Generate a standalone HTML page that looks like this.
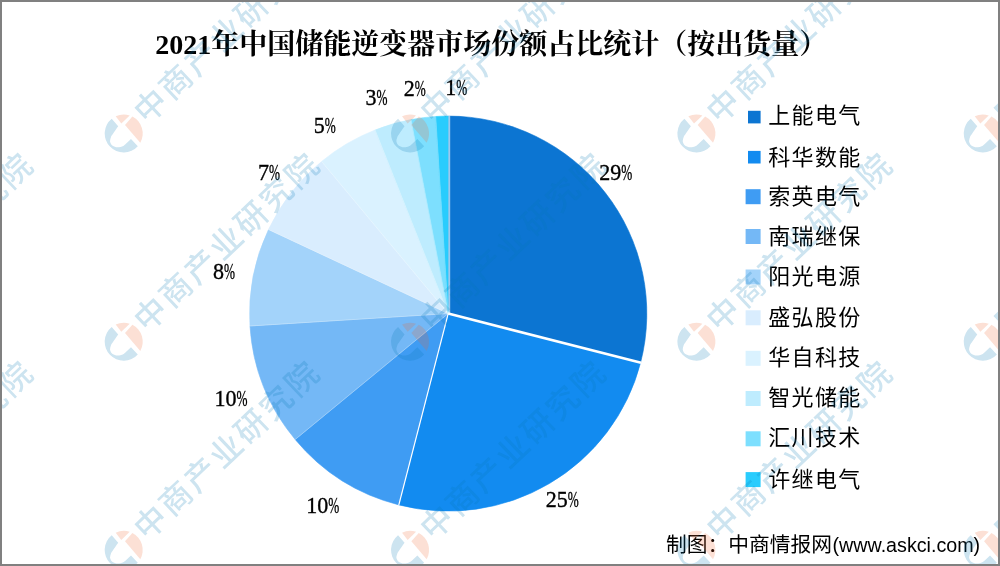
<!DOCTYPE html>
<html lang="zh-CN"><head><meta charset="utf-8"><title>2021年中国储能逆变器市场份额占比统计</title>
<style>
html,body{margin:0;padding:0;background:#fff;}
#chart{position:relative;width:1000px;height:566px;overflow:hidden;background:#fff;}
svg{position:absolute;left:0;top:0;display:block;}
.title{font-family:"Liberation Serif","Noto Serif CJK SC",serif;font-weight:bold;font-size:28px;fill:#000;}
.lab{font-family:"Liberation Serif","Noto Serif CJK SC",serif;font-size:22.8px;fill:#000;stroke:#000;stroke-width:0.35px;}
.leg{font-family:"Liberation Sans","Noto Sans CJK SC",sans-serif;font-size:22px;font-weight:400;fill:#000;letter-spacing:1.3px;}
.foot{font-family:"Liberation Sans","Noto Sans CJK SC",sans-serif;font-size:20.75px;font-weight:400;fill:#000;}
.foot .fl{font-size:19.7px;font-weight:400;}
.wm{font-family:"Liberation Sans","Noto Sans CJK SC",sans-serif;font-size:32px;fill:#0578B4;letter-spacing:2.7px;font-weight:500;}
</style></head><body>
<div id="chart">
<svg width="1000" height="566" viewBox="0 0 1000 566">
<rect x="0" y="0" width="1000" height="566" fill="#ffffff"/>

<g id="pie" transform="translate(0,313.60) scale(1,0.99447) translate(0,-313.60)">
<path d="M448.20,313.60 L448.20,115.00 A198.6,198.6 0 0 1 640.56,362.99 Z" fill="#0C75D2" stroke="#0C75D2" stroke-width="0.6"/>
<path d="M448.20,313.60 L640.56,362.99 A198.6,198.6 0 0 1 398.81,505.96 Z" fill="#128BF0" stroke="#128BF0" stroke-width="0.6"/>
<path d="M448.20,313.60 L398.81,505.96 A198.6,198.6 0 0 1 295.18,440.19 Z" fill="#3F9CF3" stroke="#3F9CF3" stroke-width="0.6"/>
<path d="M448.20,313.60 L295.18,440.19 A198.6,198.6 0 0 1 249.99,326.07 Z" fill="#74B8F6" stroke="#74B8F6" stroke-width="0.6"/>
<path d="M448.20,313.60 L249.99,326.07 A198.6,198.6 0 0 1 268.50,229.04 Z" fill="#A3D3FA" stroke="#A3D3FA" stroke-width="0.6"/>
<path d="M448.20,313.60 L268.50,229.04 A198.6,198.6 0 0 1 321.61,160.58 Z" fill="#D9EDFE" stroke="#D9EDFE" stroke-width="0.6"/>
<path d="M448.20,313.60 L321.61,160.58 A198.6,198.6 0 0 1 375.09,128.95 Z" fill="#DAF2FF" stroke="#DAF2FF" stroke-width="0.6"/>
<path d="M448.20,313.60 L375.09,128.95 A198.6,198.6 0 0 1 410.99,118.52 Z" fill="#BEECFE" stroke="#BEECFE" stroke-width="0.6"/>
<path d="M448.20,313.60 L410.99,118.52 A198.6,198.6 0 0 1 435.73,115.39 Z" fill="#7DDFFE" stroke="#7DDFFE" stroke-width="0.6"/>
<path d="M448.20,313.60 L435.73,115.39 A198.6,198.6 0 0 1 448.20,115.00 Z" fill="#29CCFD" stroke="#29CCFD" stroke-width="0.6"/>
<line x1="449.30" y1="313.60" x2="449.30" y2="114.50" stroke="#fff" stroke-width="1.8" stroke-opacity="0.6"/>
<line x1="448.20" y1="313.60" x2="641.04" y2="363.11" stroke="#fff" stroke-width="2.6" stroke-opacity="1"/>
<line x1="448.20" y1="313.60" x2="398.69" y2="506.44" stroke="#fff" stroke-width="1.2" stroke-opacity="1"/>
<line x1="448.20" y1="313.60" x2="294.79" y2="440.51" stroke="#fff" stroke-width="0.9" stroke-opacity="0.3"/>
<line x1="448.20" y1="313.60" x2="249.49" y2="326.10" stroke="#fff" stroke-width="0.9" stroke-opacity="0.3"/>
<line x1="448.20" y1="313.60" x2="268.05" y2="228.83" stroke="#fff" stroke-width="0.9" stroke-opacity="0.3"/>
<line x1="448.20" y1="313.60" x2="321.29" y2="160.19" stroke="#fff" stroke-width="0.9" stroke-opacity="0.3"/>
<line x1="448.20" y1="313.60" x2="374.91" y2="128.48" stroke="#fff" stroke-width="0.9" stroke-opacity="0.3"/>
<line x1="448.20" y1="313.60" x2="410.89" y2="118.03" stroke="#fff" stroke-width="0.9" stroke-opacity="0.3"/>
<line x1="448.20" y1="313.60" x2="435.70" y2="114.89" stroke="#fff" stroke-width="0.9" stroke-opacity="0.3"/>
</g>
<g id="labels">
<text class="lab" x="599.3" y="179.6" textLength="22.0" lengthAdjust="spacingAndGlyphs">29</text><text class="lab" x="621.3" y="179.6" textLength="11.0" lengthAdjust="spacingAndGlyphs">%</text>
<text class="lab" x="545.7" y="506.6" textLength="22.0" lengthAdjust="spacingAndGlyphs">25</text><text class="lab" x="567.7" y="506.6" textLength="11.0" lengthAdjust="spacingAndGlyphs">%</text>
<text class="lab" x="306.3" y="513.3" textLength="22.0" lengthAdjust="spacingAndGlyphs">10</text><text class="lab" x="328.3" y="513.3" textLength="11.0" lengthAdjust="spacingAndGlyphs">%</text>
<text class="lab" x="214.5" y="406.0" textLength="22.0" lengthAdjust="spacingAndGlyphs">10</text><text class="lab" x="236.5" y="406.0" textLength="11.0" lengthAdjust="spacingAndGlyphs">%</text>
<text class="lab" x="212.9" y="279.0" textLength="11.0" lengthAdjust="spacingAndGlyphs">8</text><text class="lab" x="223.9" y="279.0" textLength="11.0" lengthAdjust="spacingAndGlyphs">%</text>
<text class="lab" x="258.1" y="179.9" textLength="11.0" lengthAdjust="spacingAndGlyphs">7</text><text class="lab" x="269.1" y="179.9" textLength="11.0" lengthAdjust="spacingAndGlyphs">%</text>
<text class="lab" x="313.7" y="133.1" textLength="11.0" lengthAdjust="spacingAndGlyphs">5</text><text class="lab" x="324.7" y="133.1" textLength="11.0" lengthAdjust="spacingAndGlyphs">%</text>
<text class="lab" x="365.4" y="105.3" textLength="11.0" lengthAdjust="spacingAndGlyphs">3</text><text class="lab" x="376.4" y="105.3" textLength="11.0" lengthAdjust="spacingAndGlyphs">%</text>
<text class="lab" x="403.7" y="96.2" textLength="11.0" lengthAdjust="spacingAndGlyphs">2</text><text class="lab" x="414.7" y="96.2" textLength="11.0" lengthAdjust="spacingAndGlyphs">%</text>
<text class="lab" x="445.3" y="94.9" textLength="11.0" lengthAdjust="spacingAndGlyphs">1</text><text class="lab" x="456.3" y="94.9" textLength="11.0" lengthAdjust="spacingAndGlyphs">%</text>
</g>
<text class="title" x="155.3" y="53.6">2021年中国储能逆变器市场份额占比统计（按出货量）</text>
<g id="legend">
<rect x="748.0" y="110.8" width="12.6" height="12.6" fill="#0C75D2"/>
<text class="leg" x="768.3" y="123.1">上能电气</text>
<rect x="748.0" y="150.9" width="12.6" height="12.6" fill="#128BF0"/>
<text class="leg" x="768.3" y="164.5">科华数能</text>
<rect x="745.6" y="189.2" width="15" height="15" fill="#3F9CF3"/>
<text class="leg" x="768.3" y="204.0">索英电气</text>
<rect x="745.6" y="229.0" width="15" height="15" fill="#74B8F6"/>
<text class="leg" x="768.3" y="243.8">南瑞继保</text>
<rect x="745.6" y="269.5" width="15" height="15" fill="#A3D3FA"/>
<text class="leg" x="768.3" y="283.8">阳光电源</text>
<rect x="745.6" y="310.3" width="15" height="15" fill="#D9EDFE"/>
<text class="leg" x="768.3" y="325.1">盛弘股份</text>
<rect x="745.6" y="350.8" width="15" height="15" fill="#DAF2FF"/>
<text class="leg" x="768.3" y="365.4">华自科技</text>
<rect x="745.6" y="391.0" width="15" height="15" fill="#BEECFE"/>
<text class="leg" x="768.3" y="405.1">智光储能</text>
<rect x="745.6" y="431.3" width="15" height="15" fill="#7DDFFE"/>
<text class="leg" x="768.3" y="445.4">汇川技术</text>
<rect x="745.6" y="472.1" width="15" height="15" fill="#29CCFD"/>
<text class="leg" x="768.3" y="486.9">许继电气</text>
</g>
<text class="foot" x="666" y="552"><tspan>制图：中商情报网</tspan><tspan class="fl" dx="0.5">(www.askci.com)</tspan></text>
<g id="watermark" opacity="0.2">
<g transform="translate(-162.65,133.50)">
<path d="M-12.0,-14.73 A19,19 0 1 0 14.1,12.74 L7.3,5.6 C4.87,7.80 2.23,10.85 0.00,12.20 C-2.23,13.55 -4.25,13.70 -6.10,13.70 C-7.95,13.70 -9.85,13.12 -11.10,12.20 C-12.35,11.28 -13.33,9.63 -13.60,8.20 C-13.87,6.77 -13.23,5.00 -12.70,3.60 C-12.17,2.20 -11.60,1.60 -10.40,-0.20 C-9.20,-2.00 -7.13,-4.87 -5.50,-7.20 Z" fill="#0578B4"/>
<path d="M-8.0,-17.23 A19,19 0 0 1 6.0,-18.03 L-2.4,-9.9 Z" fill="#F0642D"/>
<path d="M1.3,-8.6 L8.7,-16.9 A19,19 0 0 1 16.6,9.25 Z" fill="#F0642D"/>
<text class="wm" transform="rotate(-43.5)" x="22.5" y="10">中商产业研究院</text>
</g>
<g transform="translate(123.70,133.50)">
<path d="M-12.0,-14.73 A19,19 0 1 0 14.1,12.74 L7.3,5.6 C4.87,7.80 2.23,10.85 0.00,12.20 C-2.23,13.55 -4.25,13.70 -6.10,13.70 C-7.95,13.70 -9.85,13.12 -11.10,12.20 C-12.35,11.28 -13.33,9.63 -13.60,8.20 C-13.87,6.77 -13.23,5.00 -12.70,3.60 C-12.17,2.20 -11.60,1.60 -10.40,-0.20 C-9.20,-2.00 -7.13,-4.87 -5.50,-7.20 Z" fill="#0578B4"/>
<path d="M-8.0,-17.23 A19,19 0 0 1 6.0,-18.03 L-2.4,-9.9 Z" fill="#F0642D"/>
<path d="M1.3,-8.6 L8.7,-16.9 A19,19 0 0 1 16.6,9.25 Z" fill="#F0642D"/>
<text class="wm" transform="rotate(-43.5)" x="22.5" y="10">中商产业研究院</text>
</g>
<g transform="translate(410.05,133.50)">
<path d="M-12.0,-14.73 A19,19 0 1 0 14.1,12.74 L7.3,5.6 C4.87,7.80 2.23,10.85 0.00,12.20 C-2.23,13.55 -4.25,13.70 -6.10,13.70 C-7.95,13.70 -9.85,13.12 -11.10,12.20 C-12.35,11.28 -13.33,9.63 -13.60,8.20 C-13.87,6.77 -13.23,5.00 -12.70,3.60 C-12.17,2.20 -11.60,1.60 -10.40,-0.20 C-9.20,-2.00 -7.13,-4.87 -5.50,-7.20 Z" fill="#0578B4"/>
<path d="M-8.0,-17.23 A19,19 0 0 1 6.0,-18.03 L-2.4,-9.9 Z" fill="#F0642D"/>
<path d="M1.3,-8.6 L8.7,-16.9 A19,19 0 0 1 16.6,9.25 Z" fill="#F0642D"/>
<text class="wm" transform="rotate(-43.5)" x="22.5" y="10">中商产业研究院</text>
</g>
<g transform="translate(696.40,133.50)">
<path d="M-12.0,-14.73 A19,19 0 1 0 14.1,12.74 L7.3,5.6 C4.87,7.80 2.23,10.85 0.00,12.20 C-2.23,13.55 -4.25,13.70 -6.10,13.70 C-7.95,13.70 -9.85,13.12 -11.10,12.20 C-12.35,11.28 -13.33,9.63 -13.60,8.20 C-13.87,6.77 -13.23,5.00 -12.70,3.60 C-12.17,2.20 -11.60,1.60 -10.40,-0.20 C-9.20,-2.00 -7.13,-4.87 -5.50,-7.20 Z" fill="#0578B4"/>
<path d="M-8.0,-17.23 A19,19 0 0 1 6.0,-18.03 L-2.4,-9.9 Z" fill="#F0642D"/>
<path d="M1.3,-8.6 L8.7,-16.9 A19,19 0 0 1 16.6,9.25 Z" fill="#F0642D"/>
<text class="wm" transform="rotate(-43.5)" x="22.5" y="10">中商产业研究院</text>
</g>
<g transform="translate(982.75,133.50)">
<path d="M-12.0,-14.73 A19,19 0 1 0 14.1,12.74 L7.3,5.6 C4.87,7.80 2.23,10.85 0.00,12.20 C-2.23,13.55 -4.25,13.70 -6.10,13.70 C-7.95,13.70 -9.85,13.12 -11.10,12.20 C-12.35,11.28 -13.33,9.63 -13.60,8.20 C-13.87,6.77 -13.23,5.00 -12.70,3.60 C-12.17,2.20 -11.60,1.60 -10.40,-0.20 C-9.20,-2.00 -7.13,-4.87 -5.50,-7.20 Z" fill="#0578B4"/>
<path d="M-8.0,-17.23 A19,19 0 0 1 6.0,-18.03 L-2.4,-9.9 Z" fill="#F0642D"/>
<path d="M1.3,-8.6 L8.7,-16.9 A19,19 0 0 1 16.6,9.25 Z" fill="#F0642D"/>
<text class="wm" transform="rotate(-43.5)" x="22.5" y="10">中商产业研究院</text>
</g>
<g transform="translate(-162.65,341.70)">
<path d="M-12.0,-14.73 A19,19 0 1 0 14.1,12.74 L7.3,5.6 C4.87,7.80 2.23,10.85 0.00,12.20 C-2.23,13.55 -4.25,13.70 -6.10,13.70 C-7.95,13.70 -9.85,13.12 -11.10,12.20 C-12.35,11.28 -13.33,9.63 -13.60,8.20 C-13.87,6.77 -13.23,5.00 -12.70,3.60 C-12.17,2.20 -11.60,1.60 -10.40,-0.20 C-9.20,-2.00 -7.13,-4.87 -5.50,-7.20 Z" fill="#0578B4"/>
<path d="M-8.0,-17.23 A19,19 0 0 1 6.0,-18.03 L-2.4,-9.9 Z" fill="#F0642D"/>
<path d="M1.3,-8.6 L8.7,-16.9 A19,19 0 0 1 16.6,9.25 Z" fill="#F0642D"/>
<text class="wm" transform="rotate(-43.5)" x="22.5" y="10">中商产业研究院</text>
</g>
<g transform="translate(123.70,341.70)">
<path d="M-12.0,-14.73 A19,19 0 1 0 14.1,12.74 L7.3,5.6 C4.87,7.80 2.23,10.85 0.00,12.20 C-2.23,13.55 -4.25,13.70 -6.10,13.70 C-7.95,13.70 -9.85,13.12 -11.10,12.20 C-12.35,11.28 -13.33,9.63 -13.60,8.20 C-13.87,6.77 -13.23,5.00 -12.70,3.60 C-12.17,2.20 -11.60,1.60 -10.40,-0.20 C-9.20,-2.00 -7.13,-4.87 -5.50,-7.20 Z" fill="#0578B4"/>
<path d="M-8.0,-17.23 A19,19 0 0 1 6.0,-18.03 L-2.4,-9.9 Z" fill="#F0642D"/>
<path d="M1.3,-8.6 L8.7,-16.9 A19,19 0 0 1 16.6,9.25 Z" fill="#F0642D"/>
<text class="wm" transform="rotate(-43.5)" x="22.5" y="10">中商产业研究院</text>
</g>
<g transform="translate(410.05,341.70)">
<path d="M-12.0,-14.73 A19,19 0 1 0 14.1,12.74 L7.3,5.6 C4.87,7.80 2.23,10.85 0.00,12.20 C-2.23,13.55 -4.25,13.70 -6.10,13.70 C-7.95,13.70 -9.85,13.12 -11.10,12.20 C-12.35,11.28 -13.33,9.63 -13.60,8.20 C-13.87,6.77 -13.23,5.00 -12.70,3.60 C-12.17,2.20 -11.60,1.60 -10.40,-0.20 C-9.20,-2.00 -7.13,-4.87 -5.50,-7.20 Z" fill="#0578B4"/>
<path d="M-8.0,-17.23 A19,19 0 0 1 6.0,-18.03 L-2.4,-9.9 Z" fill="#F0642D"/>
<path d="M1.3,-8.6 L8.7,-16.9 A19,19 0 0 1 16.6,9.25 Z" fill="#F0642D"/>
<text class="wm" transform="rotate(-43.5)" x="22.5" y="10">中商产业研究院</text>
</g>
<g transform="translate(696.40,341.70)">
<path d="M-12.0,-14.73 A19,19 0 1 0 14.1,12.74 L7.3,5.6 C4.87,7.80 2.23,10.85 0.00,12.20 C-2.23,13.55 -4.25,13.70 -6.10,13.70 C-7.95,13.70 -9.85,13.12 -11.10,12.20 C-12.35,11.28 -13.33,9.63 -13.60,8.20 C-13.87,6.77 -13.23,5.00 -12.70,3.60 C-12.17,2.20 -11.60,1.60 -10.40,-0.20 C-9.20,-2.00 -7.13,-4.87 -5.50,-7.20 Z" fill="#0578B4"/>
<path d="M-8.0,-17.23 A19,19 0 0 1 6.0,-18.03 L-2.4,-9.9 Z" fill="#F0642D"/>
<path d="M1.3,-8.6 L8.7,-16.9 A19,19 0 0 1 16.6,9.25 Z" fill="#F0642D"/>
<text class="wm" transform="rotate(-43.5)" x="22.5" y="10">中商产业研究院</text>
</g>
<g transform="translate(982.75,341.70)">
<path d="M-12.0,-14.73 A19,19 0 1 0 14.1,12.74 L7.3,5.6 C4.87,7.80 2.23,10.85 0.00,12.20 C-2.23,13.55 -4.25,13.70 -6.10,13.70 C-7.95,13.70 -9.85,13.12 -11.10,12.20 C-12.35,11.28 -13.33,9.63 -13.60,8.20 C-13.87,6.77 -13.23,5.00 -12.70,3.60 C-12.17,2.20 -11.60,1.60 -10.40,-0.20 C-9.20,-2.00 -7.13,-4.87 -5.50,-7.20 Z" fill="#0578B4"/>
<path d="M-8.0,-17.23 A19,19 0 0 1 6.0,-18.03 L-2.4,-9.9 Z" fill="#F0642D"/>
<path d="M1.3,-8.6 L8.7,-16.9 A19,19 0 0 1 16.6,9.25 Z" fill="#F0642D"/>
<text class="wm" transform="rotate(-43.5)" x="22.5" y="10">中商产业研究院</text>
</g>
<g transform="translate(-162.65,549.90)">
<path d="M-12.0,-14.73 A19,19 0 1 0 14.1,12.74 L7.3,5.6 C4.87,7.80 2.23,10.85 0.00,12.20 C-2.23,13.55 -4.25,13.70 -6.10,13.70 C-7.95,13.70 -9.85,13.12 -11.10,12.20 C-12.35,11.28 -13.33,9.63 -13.60,8.20 C-13.87,6.77 -13.23,5.00 -12.70,3.60 C-12.17,2.20 -11.60,1.60 -10.40,-0.20 C-9.20,-2.00 -7.13,-4.87 -5.50,-7.20 Z" fill="#0578B4"/>
<path d="M-8.0,-17.23 A19,19 0 0 1 6.0,-18.03 L-2.4,-9.9 Z" fill="#F0642D"/>
<path d="M1.3,-8.6 L8.7,-16.9 A19,19 0 0 1 16.6,9.25 Z" fill="#F0642D"/>
<text class="wm" transform="rotate(-43.5)" x="22.5" y="10">中商产业研究院</text>
</g>
<g transform="translate(123.70,549.90)">
<path d="M-12.0,-14.73 A19,19 0 1 0 14.1,12.74 L7.3,5.6 C4.87,7.80 2.23,10.85 0.00,12.20 C-2.23,13.55 -4.25,13.70 -6.10,13.70 C-7.95,13.70 -9.85,13.12 -11.10,12.20 C-12.35,11.28 -13.33,9.63 -13.60,8.20 C-13.87,6.77 -13.23,5.00 -12.70,3.60 C-12.17,2.20 -11.60,1.60 -10.40,-0.20 C-9.20,-2.00 -7.13,-4.87 -5.50,-7.20 Z" fill="#0578B4"/>
<path d="M-8.0,-17.23 A19,19 0 0 1 6.0,-18.03 L-2.4,-9.9 Z" fill="#F0642D"/>
<path d="M1.3,-8.6 L8.7,-16.9 A19,19 0 0 1 16.6,9.25 Z" fill="#F0642D"/>
<text class="wm" transform="rotate(-43.5)" x="22.5" y="10">中商产业研究院</text>
</g>
<g transform="translate(410.05,549.90)">
<path d="M-12.0,-14.73 A19,19 0 1 0 14.1,12.74 L7.3,5.6 C4.87,7.80 2.23,10.85 0.00,12.20 C-2.23,13.55 -4.25,13.70 -6.10,13.70 C-7.95,13.70 -9.85,13.12 -11.10,12.20 C-12.35,11.28 -13.33,9.63 -13.60,8.20 C-13.87,6.77 -13.23,5.00 -12.70,3.60 C-12.17,2.20 -11.60,1.60 -10.40,-0.20 C-9.20,-2.00 -7.13,-4.87 -5.50,-7.20 Z" fill="#0578B4"/>
<path d="M-8.0,-17.23 A19,19 0 0 1 6.0,-18.03 L-2.4,-9.9 Z" fill="#F0642D"/>
<path d="M1.3,-8.6 L8.7,-16.9 A19,19 0 0 1 16.6,9.25 Z" fill="#F0642D"/>
<text class="wm" transform="rotate(-43.5)" x="22.5" y="10">中商产业研究院</text>
</g>
<g transform="translate(696.40,549.90)">
<path d="M-12.0,-14.73 A19,19 0 1 0 14.1,12.74 L7.3,5.6 C4.87,7.80 2.23,10.85 0.00,12.20 C-2.23,13.55 -4.25,13.70 -6.10,13.70 C-7.95,13.70 -9.85,13.12 -11.10,12.20 C-12.35,11.28 -13.33,9.63 -13.60,8.20 C-13.87,6.77 -13.23,5.00 -12.70,3.60 C-12.17,2.20 -11.60,1.60 -10.40,-0.20 C-9.20,-2.00 -7.13,-4.87 -5.50,-7.20 Z" fill="#0578B4"/>
<path d="M-8.0,-17.23 A19,19 0 0 1 6.0,-18.03 L-2.4,-9.9 Z" fill="#F0642D"/>
<path d="M1.3,-8.6 L8.7,-16.9 A19,19 0 0 1 16.6,9.25 Z" fill="#F0642D"/>
<text class="wm" transform="rotate(-43.5)" x="22.5" y="10">中商产业研究院</text>
</g>
<g transform="translate(982.75,549.90)">
<path d="M-12.0,-14.73 A19,19 0 1 0 14.1,12.74 L7.3,5.6 C4.87,7.80 2.23,10.85 0.00,12.20 C-2.23,13.55 -4.25,13.70 -6.10,13.70 C-7.95,13.70 -9.85,13.12 -11.10,12.20 C-12.35,11.28 -13.33,9.63 -13.60,8.20 C-13.87,6.77 -13.23,5.00 -12.70,3.60 C-12.17,2.20 -11.60,1.60 -10.40,-0.20 C-9.20,-2.00 -7.13,-4.87 -5.50,-7.20 Z" fill="#0578B4"/>
<path d="M-8.0,-17.23 A19,19 0 0 1 6.0,-18.03 L-2.4,-9.9 Z" fill="#F0642D"/>
<path d="M1.3,-8.6 L8.7,-16.9 A19,19 0 0 1 16.6,9.25 Z" fill="#F0642D"/>
<text class="wm" transform="rotate(-43.5)" x="22.5" y="10">中商产业研究院</text>
</g>
</g>
<rect x="1" y="1" width="998" height="564" fill="none" stroke="#808080" stroke-width="2"/>
</svg>
</div>
</body></html>
